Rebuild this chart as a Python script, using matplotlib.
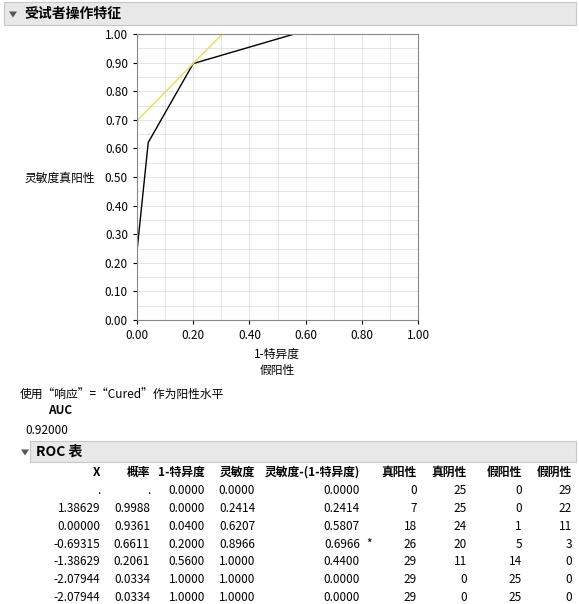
import numpy as np
import matplotlib
matplotlib.use('Agg')
import matplotlib.pyplot as plt
from matplotlib.patches import Rectangle, Polygon

plt.rcParams['font.family'] = ['Noto Sans CJK SC', 'DejaVu Sans']

## ROC data
fpr = [0.0, 0.0, 0.04, 0.20, 0.56, 1.0]
tpr = [0.0, 0.2414, 0.6207, 0.8966, 1.0, 1.0]
best_x, best_y = 0.20, 0.8966

## table data
headers = ['X', '概率', '1-特异度', '灵敏度', '灵敏度-(1-特异度)', '', '真阳性', '真阴性', '假阳性', '假阴性']
col_x = ['.', '1.38629', '0.00000', '-0.69315', '-1.38629', '-2.07944', '-2.07944']
col_p = ['.', '0.9988', '0.9361', '0.6611', '0.2061', '0.0334', '0.0334']
col_1spec = ['0.0000', '0.0000', '0.0400', '0.2000', '0.5600', '1.0000', '1.0000']
col_sens = ['0.0000', '0.2414', '0.6207', '0.8966', '1.0000', '1.0000', '1.0000']
col_diff = ['0.0000', '0.2414', '0.5807', '0.6966', '0.4400', '0.0000', '0.0000']
col_star = ['', '', '', '*', '', '', '']
col_tp = [0, 7, 18, 26, 29, 29, 29]
col_tn = [25, 25, 24, 20, 11, 0, 0]
col_fp = [0, 0, 1, 5, 14, 25, 25]
col_fn = [29, 22, 11, 3, 0, 0, 0]

W, H = 579, 604
fig = plt.figure(figsize=(W / 100, H / 100), dpi=100)
fig.patch.set_facecolor('white')

# overlay axes in pixel coords
ov = fig.add_axes([0, 0, 1, 1])
ov.set_xlim(0, W)
ov.set_ylim(H, 0)
ov.axis('off')

def bar(x0, y0, x1, y1, title, tx):
    ov.add_patch(Rectangle((x0, y0), x1 - x0, y1 - y0, facecolor='#e8e8e8', edgecolor='#c8c8c8', lw=0.8))
    ov.add_patch(Polygon([[tx - 15, (y0 + y1) / 2 - 2], [tx - 7, (y0 + y1) / 2 - 2], [tx - 11, (y0 + y1) / 2 + 4]],
                         closed=True, facecolor='#555555'))
    ov.text(tx, (y0 + y1) / 2, title, fontsize=10, fontweight='bold', va='center', ha='left')

bar(4, 2, 576, 25, '受试者操作特征', 24)
bar(30, 441, 576, 462, 'ROC 表', 36)

ov.text(20, 395, '使用“响应”=“Cured”作为阳性水平', fontsize=8.5, va='center')
ov.text(60, 411, 'AUC', fontsize=8.5, fontweight='bold', va='center', ha='center')
ov.text(25, 430, '0.92000', fontsize=8.5, va='center')
ov.text(25, 178, '灵敏度真阳性', fontsize=8.5, va='center')
ov.text(277, 354, '1-特异度', fontsize=8.5, va='center', ha='center')
ov.text(277, 370, '假阳性', fontsize=8.5, va='center', ha='center')

# table
xs = [100, 150, 205, 255, 360, 372, 417, 467, 522, 572]
ov_rows = [col_x, col_p, col_1spec, col_sens, col_diff, col_star,
           [str(v) for v in col_tp], [str(v) for v in col_tn],
           [str(v) for v in col_fp], [str(v) for v in col_fn]]
for x, h in zip(xs, headers):
    ov.text(x, 472, h, fontsize=8.5, fontweight='bold', ha='right', va='center')
for i in range(len(col_x)):
    y = 491 + i * 17.7
    for x, col in zip(xs, ov_rows):
        ov.text(x, y, col[i], fontsize=8.5, ha='right', va='center')

# ROC plot
ax = fig.add_axes([137 / W, 1 - 320 / H, 281 / W, 286 / H])
ax.plot(fpr, tpr, color='black', lw=1)
xx = np.array([0.0, 1.0 - (best_y - best_x)])
ax.plot(xx, xx + (best_y - best_x), color='#e8dc5a', lw=1)
ax.set_xlim(0, 1)
ax.set_ylim(0, 1)
ax.set_xticks(np.arange(0, 1.01, 0.2))
ax.set_yticks(np.arange(0, 1.01, 0.1))
ax.set_xticks(np.arange(0, 1.01, 0.1), minor=True)
ax.set_yticks(np.arange(0, 1.01, 0.05), minor=True)
ax.xaxis.set_major_formatter(plt.FuncFormatter(lambda v, p: '%.2f' % v))
ax.yaxis.set_major_formatter(plt.FuncFormatter(lambda v, p: '%.2f' % v))
ax.grid(True, which='both', color='#e0e0e0', lw=0.6)
ax.set_axisbelow(True)
ax.tick_params(labelsize=8.5, length=3)
ax.tick_params(which='minor', length=0)
for s in ax.spines.values():
    s.set_color('#888888')

fig.savefig('out.png', dpi=100)
